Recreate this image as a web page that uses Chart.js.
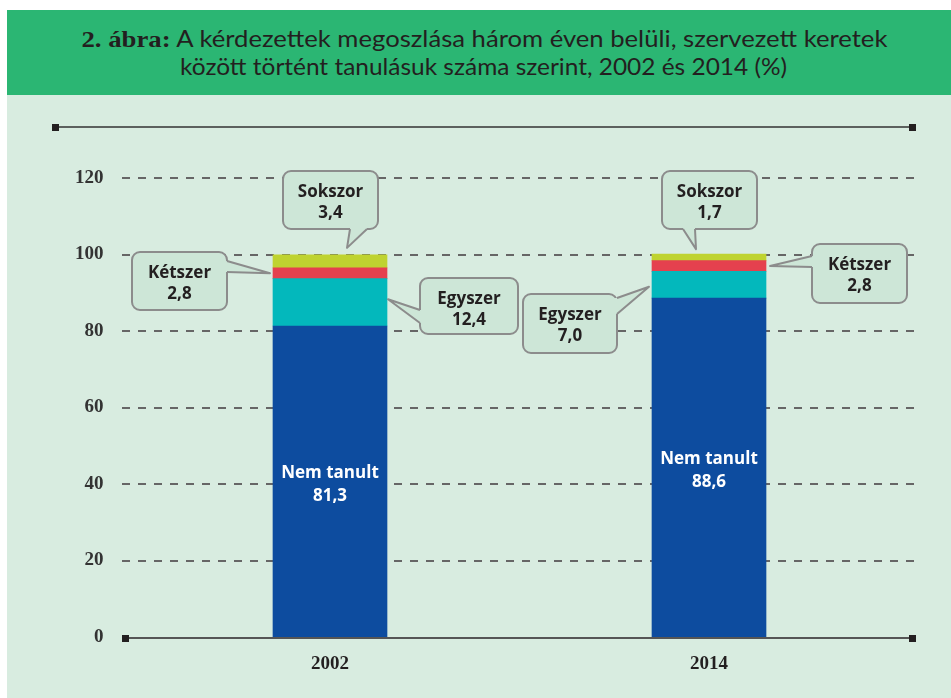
<!DOCTYPE html>
<html><head><meta charset="utf-8">
<script src="https://cdn.jsdelivr.net/npm/chart.js@4"></script>
<style>
html,body{margin:0;padding:0;background:#fff;width:951px;height:698px;overflow:hidden;}
#banner{position:absolute;left:7px;top:10px;width:944px;height:85px;background:#2bb673;}
#panel{position:absolute;left:7px;top:95px;width:944px;height:603px;background:#d8ece0;}
.tline{position:absolute;left:0;width:968px;text-align:center;white-space:nowrap;color:#231f20;font-family:Lato,"Open Sans",sans-serif;font-size:23px;line-height:28px;}
.tline .in{display:inline-block;transform-origin:center;}
.tline b{font-family:"Liberation Serif",serif;font-weight:bold;font-size:24px;}
canvas{position:absolute;left:0;top:0;}
</style></head>
<body>
<div id="banner"></div>
<div id="panel"></div>
<div class="tline" id="t1" style="top:24px"><span class="in" data-w="806"><b>2. ábra:</b> A kérdezettek megoszlása három éven belüli, szervezett keretek</span></div>
<div class="tline" id="t2" style="top:52px"><span class="in" data-w="607">között történt tanulásuk száma szerint, 2002 és 2014 (%)</span></div>
<canvas id="c" width="951" height="698"></canvas>
<script>
const categories = ['2002', '2014'];
const seriesNames = ['Nem tanult', 'Egyszer', 'Kétszer', 'Sokszor'];
const nemTanult = [81.3, 88.6];
const egyszer = [12.4, 7.0];
const ketszer = [2.8, 2.8];
const sokszor = [3.4, 1.7];
const yTicks = [0, 20, 40, 60, 80, 100, 120];

// title width fitting
document.querySelectorAll('.tline .in').forEach(s => {
  const w = s.getBoundingClientRect().width;
  s.style.transform = 'scaleX(' + (parseFloat(s.dataset.w) / w) + ')';
});

const colors = ['#0d4c9f', '#03b8bc', '#e5414e', '#bfd330'];
const fmt = v => v.toFixed(1).replace('.', ',');

// callout layout (annotation boxes)
const callouts = [
  {ds:3, i:0, box:[283,171,95,58], side:'bottom', a:350, b:367, anchor:'top', dx:17, dy:-7},
  {ds:2, i:0, box:[132,252,95,58], side:'right', a:261, b:272, anchor:'left', dx:-3, dy:0},
  {ds:1, i:0, box:[420,278,98,56], side:'left', a:310, b:323, anchor:'right', dx:1, dy:-3},
  {ds:3, i:1, box:[662,171,95,58], side:'bottom', a:683, b:695, anchor:'top', dx:-13, dy:-5},
  {ds:2, i:1, box:[812,244,95,59], side:'left', a:256, b:267, anchor:'right', dx:4, dy:0},
  {ds:1, i:1, box:[523,294,94,59], side:'right', a:298, b:314, anchor:'left', dx:-3, dy:2}
];

const LABEL_FONT = 'bold 17px "Open Sans", "DejaVu Sans", sans-serif';

function square(ctx, x, y) { ctx.fillStyle = '#231f20'; ctx.fillRect(x - 3, y - 3, 7, 7); }

const decor = {
  id: 'decor',
  beforeDatasetsDraw(chart) {
    const ctx = chart.ctx, ys = chart.scales.y;
    ctx.save();
    // top rule
    ctx.strokeStyle = '#333'; ctx.lineWidth = 1.5;
    ctx.beginPath(); ctx.moveTo(55, 127); ctx.lineTo(912, 127); ctx.stroke();
    square(ctx, 55, 127); square(ctx, 912, 127);
    // dashed grid
    ctx.strokeStyle = '#666'; ctx.lineWidth = 2; ctx.setLineDash([8, 8]);
    yTicks.forEach(t => {
      if (t === 0) return;
      const y = Math.round(ys.getPixelForValue(t));
      ctx.beginPath(); ctx.moveTo(122, y); ctx.lineTo(916, y); ctx.stroke();
    });
    ctx.restore();
  },
  afterDatasetsDraw(chart) {
    const ctx = chart.ctx, ys = chart.scales.y;
    ctx.save();
    const y0 = Math.round(ys.getPixelForValue(0)) + 1;
    ctx.strokeStyle = '#555'; ctx.lineWidth = 2;
    ctx.beginPath(); ctx.moveTo(125, y0); ctx.lineTo(912, y0); ctx.stroke();
    square(ctx, 125, y0); square(ctx, 912, y0);

    // inner labels of first series
    const meta0 = chart.getDatasetMeta(0);
    ctx.fillStyle = '#ffffff'; ctx.font = LABEL_FONT; ctx.textAlign = 'center'; ctx.textBaseline = 'alphabetic';
    meta0.data.forEach((el, i) => {
      const p = el.getProps(['x', 'y', 'base'], true);
      const mid = (p.y + p.base) / 2;
      ctx.fillText(seriesNames[0], p.x, mid - 3.5);
      ctx.fillText(fmt(nemTanult[i]), p.x, mid + 19.5);
    });

    // callouts
    const vals = [nemTanult, egyszer, ketszer, sokszor];
    callouts.forEach(c => {
      const el = chart.getDatasetMeta(c.ds).data[c.i];
      const p = el.getProps(['x', 'y', 'base', 'width'], true);
      const top = Math.min(p.y, p.base), bot = Math.max(p.y, p.base), mid = (top + bot) / 2;
      let tx, ty;
      if (c.anchor === 'top') { tx = p.x + c.dx; ty = top + c.dy; }
      else if (c.anchor === 'left') { tx = p.x - p.width / 2 + c.dx; ty = mid + c.dy; }
      else { tx = p.x + p.width / 2 + c.dx; ty = mid + c.dy; }
      const [bx, by, bw, bh] = c.box;
      let p1, p2, q1, q2;
      if (c.side === 'bottom') { p1 = [c.a, by + bh]; p2 = [c.b, by + bh]; q1 = [c.a, by + bh - 3]; q2 = [c.b, by + bh - 3]; }
      else if (c.side === 'right') { p1 = [bx + bw, c.a]; p2 = [bx + bw, c.b]; q1 = [bx + bw - 3, c.a]; q2 = [bx + bw - 3, c.b]; }
      else { p1 = [bx, c.a]; p2 = [bx, c.b]; q1 = [bx + 3, c.a]; q2 = [bx + 3, c.b]; }
      ctx.fillStyle = '#cde6d7'; ctx.strokeStyle = '#8c8c8c'; ctx.lineWidth = 2; ctx.lineJoin = 'round';
      ctx.beginPath(); ctx.roundRect(bx, by, bw, bh, 8); ctx.fill(); ctx.stroke();
      ctx.beginPath(); ctx.moveTo(q1[0], q1[1]); ctx.lineTo(p1[0], p1[1]); ctx.lineTo(tx, ty); ctx.lineTo(p2[0], p2[1]); ctx.lineTo(q2[0], q2[1]); ctx.closePath(); ctx.fill();
      ctx.beginPath(); ctx.moveTo(p1[0], p1[1]); ctx.lineTo(tx, ty); ctx.lineTo(p2[0], p2[1]); ctx.stroke();
      ctx.fillStyle = '#231f20'; ctx.font = LABEL_FONT; ctx.textAlign = 'center'; ctx.textBaseline = 'alphabetic';
      ctx.fillText(seriesNames[c.ds], bx + bw / 2, by + 26);
      ctx.fillText(fmt(vals[c.ds][c.i]), bx + bw / 2, by + 47);
    });
    ctx.restore();
  }
};

new Chart(document.getElementById('c'), {
  type: 'bar',
  data: {
    labels: categories,
    datasets: [
      {label: seriesNames[0], data: nemTanult, backgroundColor: colors[0]},
      {label: seriesNames[1], data: egyszer, backgroundColor: colors[1]},
      {label: seriesNames[2], data: ketszer, backgroundColor: colors[2]},
      {label: seriesNames[3], data: sokszor, backgroundColor: colors[3]}
    ]
  },
  options: {
    responsive: false,
    animation: false,
    devicePixelRatio: 1,
    layout: {padding: {top: 178, right: 52.5, bottom: 21, left: 0}},
    datasets: {bar: {barThickness: 114, borderWidth: 0}},
    plugins: {legend: {display: false}, tooltip: {enabled: false}, title: {display: false}},
    scales: {
      x: {
        stacked: true,
        grid: {display: false}, border: {display: false},
        ticks: {color: '#231f20', font: {family: '"Liberation Serif", serif', weight: 'bold', size: 19}, padding: 8},
        afterFit: s => { s.height = 40; }
      },
      y: {
        stacked: true, min: 0, max: 120,
        grid: {display: false, drawTicks: false}, border: {display: false},
        afterBuildTicks: s => { s.ticks = yTicks.map(v => ({value: v})); },
        ticks: {color: '#333', font: {family: '"Liberation Serif", serif', weight: 'bold', size: 19}, padding: 37},
        afterFit: s => { s.width = 140.5; }
      }
    }
  },
  plugins: [decor]
});
</script>
</body></html>
